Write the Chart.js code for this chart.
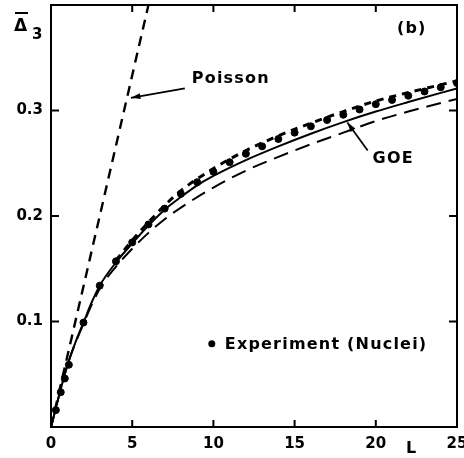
<!DOCTYPE html>
<html>
<head>
<meta charset="utf-8">
<script src="https://cdn.jsdelivr.net/npm/chart.js@4.4.0/dist/chart.umd.min.js"></script>
<style>
html,body{margin:0;padding:0;background:#fff}
#c{display:block}
</style>
</head>
<body>
<canvas id="c" width="464" height="458"></canvas>
<script>
// axis ticks
const xTicks=[0,5,10,15,20,25];
const yTicks=[0.1,0.2,0.3];

// Poisson straight line
const poissonL=[0,6];
const poissonD=[0,0.4];

// GOE (solid)
const goeL=[0,0.25,0.5,1,1.5,2,2.5,3,4,5,6,7,8,9,10,12,14,16,18,20,22,25];
const goeD=[0,0.015,0.03,0.058,0.08,0.099,0.118,0.134,0.156,0.174,0.191,0.206,0.218,0.229,0.238,0.253,0.266,0.278,0.289,0.299,0.308,0.321];

// long dashed curve below GOE
const longL=[0,1,2,3,4,5,6,7,8,10,12,14,16,18,20,22,25];
const longD=[0,0.058,0.098,0.131,0.152,0.169,0.184,0.197,0.208,0.227,0.243,0.256,0.268,0.279,0.29,0.299,0.311];

// experiment (nuclei) points
const expL=[0.3,0.6,0.85,1.1,2,3,4,5,6,7,8,9,10,11,12,13,14,15,16,17,18,19,20,21,22,23,24,25];
const expD=[0.016,0.033,0.046,0.059,0.099,0.134,0.157,0.175,0.192,0.207,0.221,0.232,0.242,0.251,0.259,0.266,0.273,0.279,0.285,0.291,0.296,0.301,0.306,0.31,0.314,0.318,0.322,0.326];

// short dashed edge of the experiment band
const bandL=[4,5,6,7,8,10,12,14,16,18,20,22,25];
const bandD=[0.158,0.177,0.194,0.21,0.224,0.245,0.262,0.276,0.288,0.299,0.309,0.317,0.328];

function pts(xs,ys){return xs.map((x,i)=>({x:x,y:ys[i]}));}

const FONT='"DejaVu Sans", sans-serif';

const framePlugin={
  id:'frame',
  afterDatasetsDraw(chart){
    const c=chart.ctx, a=chart.chartArea, sx=chart.scales.x, sy=chart.scales.y;
    c.save();
    c.strokeStyle='#000';c.lineWidth=2;c.setLineDash([]);
    c.strokeRect(a.left,a.top,a.right-a.left,a.bottom-a.top);
    c.beginPath();
    xTicks.forEach(v=>{const p=sx.getPixelForValue(v);
      c.moveTo(p,a.bottom);c.lineTo(p,a.bottom-7);
      c.moveTo(p,a.top);c.lineTo(p,a.top+7);});
    yTicks.forEach(v=>{const p=sy.getPixelForValue(v);
      c.moveTo(a.left,p);c.lineTo(a.left+8,p);
      c.moveTo(a.right,p);c.lineTo(a.right-8,p);});
    c.stroke();

    // arrows
    function arrow(x1,y1,x2,y2){
      const X1=sx.getPixelForValue(x1),Y1=sy.getPixelForValue(y1);
      const X2=sx.getPixelForValue(x2),Y2=sy.getPixelForValue(y2);
      c.lineWidth=1.8;
      c.beginPath();c.moveTo(X1,Y1);c.lineTo(X2,Y2);c.stroke();
      const ang=Math.atan2(Y2-Y1,X2-X1);
      c.beginPath();c.moveTo(X2,Y2);
      c.lineTo(X2-10*Math.cos(ang-0.3),Y2-10*Math.sin(ang-0.3));
      c.lineTo(X2-10*Math.cos(ang+0.3),Y2-10*Math.sin(ang+0.3));
      c.closePath();c.fillStyle='#000';c.fill();
    }
    arrow(8.24,0.321,4.92,0.312);
    arrow(19.5,0.262,18.25,0.2886);

    c.fillStyle='#000';c.textBaseline='middle';c.textAlign='left';
    c.font='bold 16px '+FONT;
    c.letterSpacing='1.2px';
    c.fillText('Poisson',sx.getPixelForValue(8.67),sy.getPixelForValue(0.33));
    c.fillText('GOE',sx.getPixelForValue(19.8),sy.getPixelForValue(0.2545));
    c.fillText('(b)',sx.getPixelForValue(21.3),sy.getPixelForValue(0.377));
    c.fillText('Experiment (Nuclei)',sx.getPixelForValue(10.7),sy.getPixelForValue(0.078));
    c.letterSpacing='0px';
    c.beginPath();c.arc(sx.getPixelForValue(9.9),sy.getPixelForValue(0.079),3.5,0,Math.PI*2);c.fill();

    // axis titles
    c.font='bold 17px '+FONT;
    c.fillText('\u0394',14,27);
    c.fillRect(15,12,13,2);
    c.font='bold 15px '+FONT;
    c.fillText('3',32,35);
    c.font='bold 16px '+FONT;
    c.fillText('L',406,449);
    c.restore();
  }
};

new Chart(document.getElementById('c'),{
  type:'scatter',
  data:{datasets:[
    {data:pts(poissonL,poissonD),showLine:true,borderColor:'#000',borderWidth:2.4,borderDash:[10,7],pointRadius:0},
    {data:pts(goeL,goeD),showLine:true,borderColor:'#000',borderWidth:2,pointRadius:0,cubicInterpolationMode:'monotone'},
    {data:pts(longL,longD),showLine:true,borderColor:'#000',borderWidth:2,borderDash:[15,8],pointRadius:0,cubicInterpolationMode:'monotone'},
    {data:pts(bandL,bandD),showLine:true,borderColor:'#000',borderWidth:3,borderDash:[7,6],pointRadius:0,cubicInterpolationMode:'monotone'},
    {data:pts(expL,expD),showLine:false,backgroundColor:'#000',borderColor:'#000',pointRadius:3.5}
  ]},
  options:{
    responsive:false,animation:false,devicePixelRatio:1,
    layout:{padding:{left:0,right:7,top:5,bottom:0}},
    plugins:{legend:{display:false},tooltip:{enabled:false}},
    scales:{
      x:{type:'linear',min:0,max:25,
        grid:{display:false,drawTicks:false},border:{display:false},
        ticks:{stepSize:5,autoSkip:false,maxRotation:0,padding:8,color:'#000',font:{family:FONT,weight:'bold',size:15}},
        afterFit(s){s.height=31;s.paddingLeft=0;s.paddingRight=0;}},
      y:{type:'linear',min:0,max:0.4,
        grid:{display:false,drawTicks:false},border:{display:false},
        ticks:{stepSize:0.1,padding:8,color:'#000',font:{family:FONT,weight:'bold',size:15},
          callback:v=>(v>0.05&&v<0.35)?v.toFixed(1):''},
        afterFit(s){s.width=51;s.paddingTop=0;s.paddingBottom=0;}}
    }
  },
  plugins:[framePlugin]
});
</script>
</body>
</html>
